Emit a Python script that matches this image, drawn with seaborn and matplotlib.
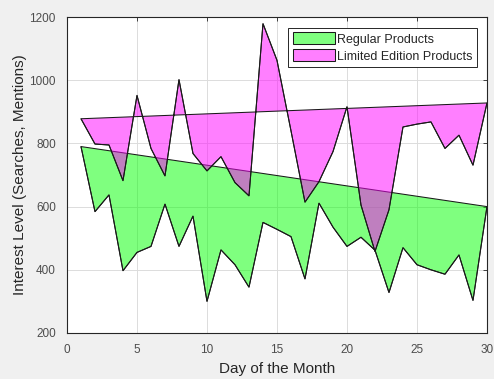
import matplotlib
matplotlib.use("Agg")
import matplotlib.pyplot as plt
import pandas as pd
import seaborn as sns

# Daily interest (searches + mentions) over one month
days = list(range(1, 31))
regular = [790, 584, 637, 397, 455, 474, 608, 474, 570, 300,
           463, 416, 345, 550, 528, 505, 371, 611, 535, 474,
           503, 462, 328, 470, 416, 400, 386, 447, 303, 600]
limited = [878, 798, 795, 682, 952, 784, 697, 1002, 768, 713,
           758, 676, 634, 1179, 1063, 840, 614, 679, 774, 916,
           605, 458, 590, 852, 861, 868, 784, 826, 731, 928]
series_names = ["Regular Products", "Limited Edition Products"]
x_ticks = [0, 5, 10, 15, 20, 25, 30]
y_ticks = [200, 400, 600, 800, 1000, 1200]

df = pd.DataFrame({"Day": days + days,
                   "Interest": regular + limited,
                   "Series": [series_names[0]] * 30 + [series_names[1]] * 30})

sns.set_style("white")
plt.rcParams["font.family"] = ["Liberation Sans", "DejaVu Sans"]

fig = plt.figure(figsize=(4.94, 3.79), dpi=100, facecolor="#f0f0f0")
ax = fig.add_axes([0.1356, 0.1214, 0.8502, 0.8337])
ax.set_facecolor("white")

fills = {series_names[0]: (0.0, 1.0, 0.0), series_names[1]: (1.0, 0.0, 1.0)}
for name in series_names:
    sub = df[df["Series"] == name]
    # closed polygon: the daily values, returning along the first-to-last chord
    ax.fill(sub["Day"], sub["Interest"], facecolor=fills[name] + (0.5,),
            edgecolor="#1a1a1a", linewidth=0.75, label=name, zorder=2)

sns.lineplot(data=df, x="Day", y="Interest", units="Series", estimator=None,
             color="#1a1a1a", linewidth=0.75, ax=ax, legend=False, zorder=3)

ax.set_xlim(0, 30)
ax.set_ylim(200, 1200)
ax.set_xticks(x_ticks)
ax.set_yticks(y_ticks)
ax.grid(True, color="#dcdcdc", linewidth=0.7, zorder=0)
ax.set_axisbelow(True)
for sp in ax.spines.values():
    sp.set_visible(True)
    sp.set_color("#262626")
    sp.set_linewidth(0.8)
ax.tick_params(direction="in", length=3, width=0.6, colors="#262626",
               labelsize=8.5, pad=8, top=True, right=True,
               labeltop=False, labelright=False)
for lbl in ax.get_xticklabels() + ax.get_yticklabels():
    lbl.set_color("#4d4d4d")
ax.set_xlabel("Day of the Month", fontsize=11, color="#262626", labelpad=4)
ax.set_ylabel("Interest Level (Searches, Mentions)", fontsize=11,
              color="#262626", labelpad=2)

leg = ax.legend(loc="upper right", bbox_to_anchor=(0.976, 0.965), fontsize=9,
                frameon=True, fancybox=False, framealpha=1, edgecolor="#262626",
                handlelength=3.4, handleheight=1.1, handletextpad=0.15,
                borderpad=0.35, labelspacing=0.3, borderaxespad=0)
leg.get_frame().set_linewidth(0.7)

fig.savefig("out.png", dpi=100, facecolor=fig.get_facecolor())
